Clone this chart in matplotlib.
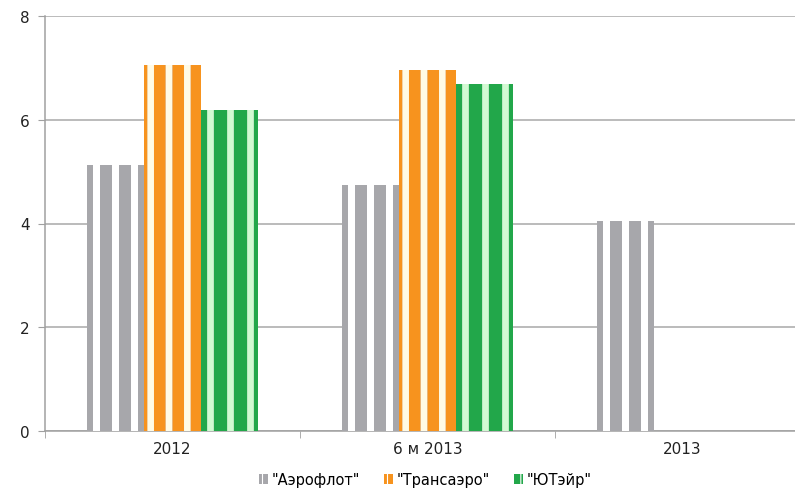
import numpy as np
import matplotlib
matplotlib.use("Agg")
import matplotlib.pyplot as plt
from matplotlib.patches import Patch

categories = ["2012", "6 м 2013", "2013"]
series = ['"Аэрофлот"', '"Трансаэро"', '"ЮТэйр"']
aeroflot = [5.12, 4.73, 4.04]
transaero = [7.05, 6.95, 0]
utair = [6.18, 6.68, 0]
y_ticks = [0, 2, 4, 6, 8]


def hex_rgb(h):
    h = h.lstrip("#")
    return np.array([int(h[i:i + 2], 16) / 255 for i in (0, 2, 4)])


def stripe_image(base, light, edge, start, width, period, n_px=57, soft=True):
    """
    Строит полосатую текстуру для столбика (1 x N x 3)
    """
    t = np.arange(n_px * 4) / 4.0
    u = ((t - start) % period) / width
    img = np.tile(hex_rgb(base), (len(t), 1))
    inside = u < 1
    if soft:
        k = np.clip(np.sin(np.pi * u[inside]) * 2.6, 0, 1)[:, None]
        img[inside] = hex_rgb(edge) + (hex_rgb(light) - hex_rgb(edge)) * k
    else:
        img[inside] = hex_rgb(light)
    return img[None, :, :]


textures = [
    stripe_image("#A7A7AB", "#FFFFFF", "#FFFFFF", 5.8, 6.8, 19.0, soft=False),
    stripe_image("#F7931E", "#FFFBE6", "#E4A25A", 3.0, 7.4, 18.3),
    stripe_image("#22A74A", "#D2FAD2", "#4F8E6C", 5.7, 7.6, 20.0),
]
legend_colors = ["#A7A7AB", "#F7931E", "#22A74A"]

fig = plt.figure(figsize=(7.95, 4.89), dpi=100)
ax = fig.add_axes([45 / 795, 1 - 432 / 489, 750 / 795, 415 / 489])

x = np.arange(len(categories))
width = 0.2235
for i, vals in enumerate([aeroflot, transaero, utair]):
    bars = ax.bar(x + (i - 1) * width, vals, width, color="none", linewidth=0, zorder=3)
    for b in bars:
        h = b.get_height()
        if h <= 0:
            continue
        x0 = b.get_x()
        ax.imshow(textures[i], extent=(x0, x0 + b.get_width(), 0, h),
                  aspect="auto", interpolation="nearest", zorder=3)

ax.set_xlim(-0.5, 2.441)
ax.set_ylim(0, 8)
ax.set_yticks(y_ticks)
ax.set_xticks(x)
ax.set_xticklabels(categories)
ax.set_xticks([-0.5, 0.5, 1.5], minor=True)
ax.tick_params(axis="x", which="major", length=0, pad=7, labelsize=11, labelcolor="#222222")
ax.tick_params(axis="x", which="minor", length=5, color="#A0A0A0", direction="out")
ax.tick_params(axis="y", length=5, color="#A0A0A0", pad=6, labelsize=11, labelcolor="#222222")
ax.grid(axis="y", color="#A8A8A8", linewidth=1.1, zorder=0)
for side in ["top", "right"]:
    ax.spines[side].set_visible(False)
for side in ["left", "bottom"]:
    ax.spines[side].set_color("#A0A0A0")
    ax.spines[side].set_linewidth(1.1)
ax.set_axisbelow(True)

plt.rcParams["hatch.linewidth"] = 0.8
handles = [Patch(facecolor=c, edgecolor="white", hatch="||", linewidth=0) for c in legend_colors]
fig.legend(handles, series, loc="lower center", bbox_to_anchor=(0.535, -0.025), ncol=3,
           frameon=False, fontsize=10.5, handlelength=0.65, handleheight=0.65,
           handletextpad=0.25, columnspacing=1.6)

fig.savefig("out.png", dpi=100)
